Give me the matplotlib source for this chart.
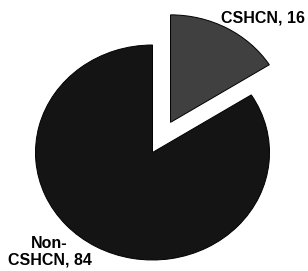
import matplotlib
matplotlib.use("Agg")
import matplotlib.pyplot as plt

# data
labels = ["CSHCN", "Non-\nCSHCN"]
values = [16, 84]
colors = ["#404040", "#141414"]
explode = [0.32, 0]

plt.rcParams['font.family'] = ['Liberation Sans', 'DejaVu Sans']

fig = plt.figure(figsize=(3.08, 2.71), dpi=100)
ax = fig.add_axes([0, 0, 1, 1])

ax.pie(values, colors=colors, explode=explode, startangle=90, counterclock=False,
       wedgeprops=dict(edgecolor="black", linewidth=0.7))
ax.set_aspect('auto')
ax.set_xlim(-1.3034, 1.3291)
ax.set_ylim(-1.1023, 1.4186)
ax.axis('off')

# labels
ax.text(1.30, 1.255, f"{labels[0]}, {values[0]}", ha="right", va="center",
        fontsize=11.5, fontweight="bold")
ax.text(-0.88, -0.92, f"{labels[1]}, {values[1]}", ha="center", va="center",
        fontsize=11.5, fontweight="bold", linespacing=1.1)

fig.savefig("out.png", dpi=100)
